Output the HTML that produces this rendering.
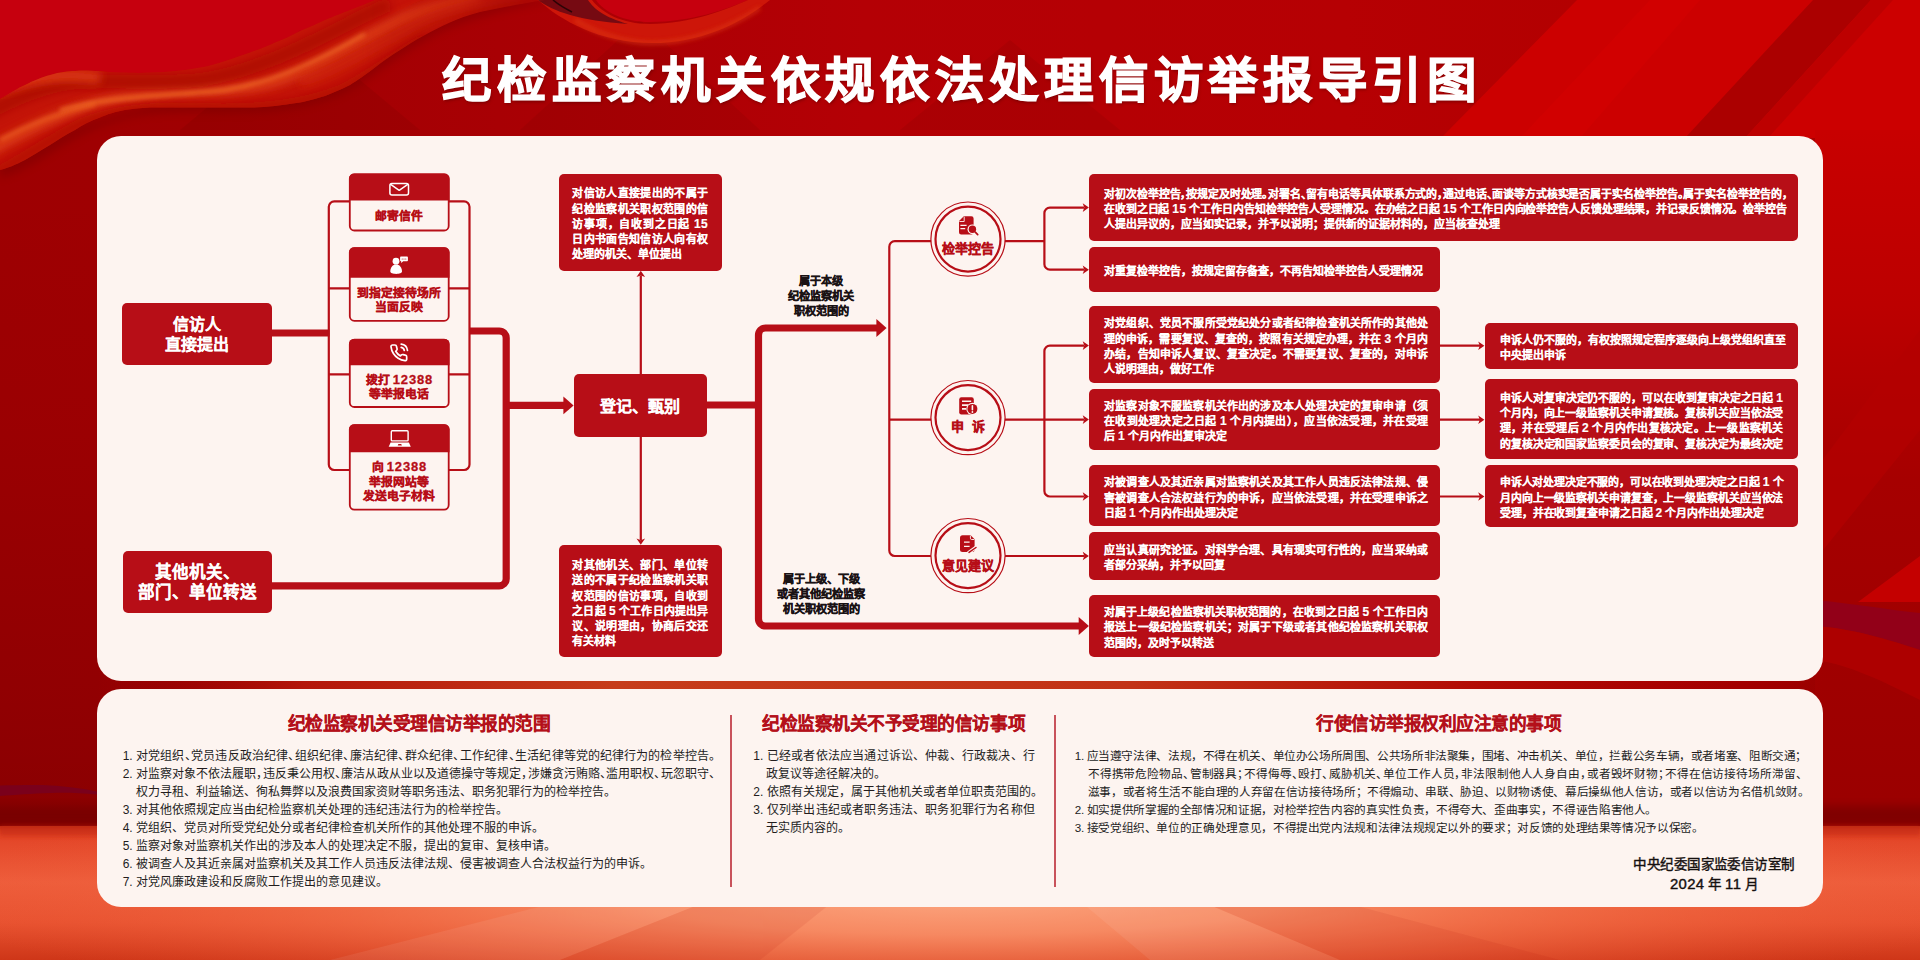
<!DOCTYPE html>
<html lang="zh-CN">
<head>
<meta charset="utf-8">
<title>纪检监察机关依规依法处理信访举报导引图</title>
<style>
html,body{margin:0;padding:0}
body{width:1920px;height:960px;overflow:hidden;position:relative;background:#a40003;font-family:"Liberation Sans",sans-serif;color:#fff}
#bg,#ln,#ic{position:absolute;left:0;top:0;width:1920px;height:960px;display:block}
.title{position:absolute;left:2px;top:42.6px;width:1920px;margin:0;text-align:center;font-size:47.5px;line-height:76px;font-weight:900;letter-spacing:5.6px;color:#fff;-webkit-text-stroke:1.3px #fff;text-shadow:1px 2px 3px rgba(90,0,0,.55);white-space:nowrap;transform:scaleX(1.04);transform-origin:959px 50%}
.w{white-space:nowrap;text-align:justify;text-align-last:justify}
.wc{margin-left:auto;margin-right:auto}
.panel{position:absolute;left:97px;width:1726px;background:#fdf4f0;border-radius:24px}
.p1{top:136px;height:545px}
.p2{top:689px;height:218px}
.b,.ctx,.lab,.cl,.h2{-webkit-text-stroke:.3px currentColor}
.n{font-size:1.1em;letter-spacing:.4px}
.ctx .n{letter-spacing:.8px}
.b{position:absolute;background:#b70e17;border-radius:5px;color:#fff;font-weight:700;box-sizing:border-box}
.bx{display:flex;align-items:center}
.t{font-size:10.9px;-webkit-text-stroke:.16px currentColor;line-height:15.2px;white-space:nowrap}
.t div{height:15.2px}
.t i{font-style:normal;margin-right:-.5em}
.j{text-align:justify;text-align-last:justify}
.big{-webkit-text-stroke:.12px currentColor;padding-top:1px;font-size:16px;line-height:19.6px;text-align:center;display:flex;flex-direction:column;align-items:center;justify-content:center}
.ctx{position:absolute;left:349px;width:100.5px;color:#b70e17;font-weight:700;font-size:11.8px;line-height:14.3px;text-align:center;white-space:nowrap}
.lab{margin-top:.8px;position:absolute;color:#1a1214;font-weight:700;font-size:11.2px;line-height:15px;text-align:center;white-space:nowrap}
.cl{position:absolute;color:#b70e17;font-weight:700;font-size:13px;line-height:16px;text-align:center;white-space:nowrap;width:76px}
.h2{position:absolute;top:712px;color:#b4101a;font-weight:700;font-size:17.7px;letter-spacing:-.47px;line-height:24px;-webkit-text-stroke:.2px currentColor;white-space:nowrap;text-align:center}
.ls{position:absolute;color:#231d1d;font-size:12px;line-height:18.07px;white-space:nowrap}
.ls div{height:18.07px}
.ls .in{margin-left:13px}
.ls i{font-style:normal;margin-right:-.45em}
.dv{position:absolute;top:715px;width:1.6px;height:172px;background:#c8525b}
.ft{position:absolute;left:1614px;width:200px;color:#15100f;font-weight:400;-webkit-text-stroke:.4px currentColor;font-size:13.5px;letter-spacing:.45px;line-height:18.9px;text-align:center;white-space:nowrap}
</style>
</head>
<body>
<svg id="bg" viewBox="0 0 1920 960" preserveAspectRatio="none">
<defs>
<linearGradient id="gBase" x1="0" y1="0" x2="1" y2="0">
<stop offset="0" stop-color="#9e0002"/><stop offset=".1" stop-color="#a00002"/><stop offset=".26" stop-color="#a80004"/><stop offset=".45" stop-color="#b40005"/><stop offset=".7" stop-color="#b60003"/><stop offset=".86" stop-color="#b20000"/><stop offset="1" stop-color="#a40000"/>
</linearGradient>
<linearGradient id="gDarkV" x1="0" y1="0" x2="0" y2="1">
<stop offset="0" stop-color="#5a0000" stop-opacity="0"/><stop offset=".35" stop-color="#5a0000" stop-opacity=".05"/><stop offset=".8" stop-color="#5a0000" stop-opacity=".2"/><stop offset="1" stop-color="#5a0000" stop-opacity=".3"/>
</linearGradient>
<linearGradient id="gFloor" x1="0" y1="0" x2="0" y2="1">
<stop offset="0" stop-color="#dc3a1c"/><stop offset=".12" stop-color="#e4482a"/><stop offset=".42" stop-color="#ee5e3c"/><stop offset=".72" stop-color="#e85230"/><stop offset="1" stop-color="#ce3618"/>
</linearGradient>
<radialGradient id="gGlow" cx="960" cy="0" r="1050" gradientUnits="userSpaceOnUse" gradientTransform="translate(0 896) scale(1 .115)">
<stop offset="0" stop-color="#fca680" stop-opacity="1"/><stop offset=".32" stop-color="#f88e66" stop-opacity=".92"/><stop offset=".62" stop-color="#f27048" stop-opacity=".6"/><stop offset="1" stop-color="#ea5230" stop-opacity="0"/>
</radialGradient>
<linearGradient id="gSide" x1="0" y1="0" x2="0" y2="1">
<stop offset="0" stop-color="#c80000"/><stop offset=".25" stop-color="#bc0000"/><stop offset=".5" stop-color="#a60000"/><stop offset="1" stop-color="#9a0000"/>
</linearGradient>
<filter id="bl2" x="-10%" y="-40%" width="120%" height="180%"><feGaussianBlur stdDeviation="2"/></filter>
<filter id="bl4" x="-10%" y="-40%" width="120%" height="180%"><feGaussianBlur stdDeviation="4"/></filter>
<filter id="bl8" x="-10%" y="-60%" width="120%" height="220%"><feGaussianBlur stdDeviation="8"/></filter>
<linearGradient id="gRibFade" x1="360" y1="0" x2="545" y2="0" gradientUnits="userSpaceOnUse"><stop offset="0" stop-color="#fff"/><stop offset=".55" stop-color="#fff" stop-opacity=".75"/><stop offset="1" stop-color="#fff" stop-opacity=".25"/></linearGradient>
<mask id="mRib" maskUnits="userSpaceOnUse" x="-10" y="-10" width="600" height="200"><rect x="-10" y="-10" width="600" height="200" fill="url(#gRibFade)"/></mask>
<clipPath id="cRib"><path d="M0 99C10 93 18 88 25 85C35 80 42 77 50 75C60 72 68 71 75 71C85 70 92 71 100 71C110 72 118 72.5 125 72.5C135 73 142 73 150 72.5C160 72 168 72 175 71C185 70 192 69 200 67.5C210 66 218 63 225 61C235 58 242 55 250 52.5C260 49 268 46 275 42.5C285 39 292 35 300 31C310 27 318 23 325 20C335 16 342 13 350 10C360 6 368 3 375 0H545C520 4 500 8 480 12C468 15 458 19 450 22.5C440 27 432 31 425 35C415 40 408 45 400 50C390 56 382 62 375 67.5C365 75 358 80 350 85C340 90 332 93 325 96C315 99 308 101 300 102.5C290 104 282 105 275 106C265 107 258 107.5 250 107.5H150C140 108 132 109 125 110C115 112 108 114 100 117.5C90 121 82 125 75 130C65 135 58 140 50 145C40 151 32 156 25 160C15 165 8 168 0 170Z"/></clipPath>
</defs>
<rect width="1920" height="960" fill="url(#gBase)"/>
<rect y="200" width="1920" height="626" fill="url(#gDarkV)"/>
<!-- top-left bright field above ribbon -->
<path d="M0 0H420L300 60L100 100L0 130Z" fill="#c6000e"/>
<!-- title zone faint diamonds -->
<g opacity=".05" fill="#000">
<path d="M180 130L300 30L420 130Z"/><path d="M520 130L640 20L760 130Z"/><path d="M900 130L1010 40L1120 130Z"/>
</g>
<!-- top-right diagonal bands -->
<path d="M1441 138L1577 0H1920V138Z" fill="#cc0000"/>
<path d="M1520 138L1650 0H1700L1580 138Z" fill="#d60000" opacity=".55"/>
<path d="M1685 138L1813 0H1871L1745 138Z" fill="#ab0000"/>
<path d="M1745 138L1871 0H1893L1768 138Z" fill="#bd0000"/>
<!-- right margin -->
<rect x="1815" y="130" width="105" height="700" fill="url(#gSide)"/>
<path d="M1815 470L1920 330V430L1815 560Z" fill="#b40000" opacity=".7"/>
<path d="M1920 556L1858 602H1920Z" fill="#c40000"/>
<path d="M1815 600C1850 603 1890 610 1920 613V650C1890 640 1850 628 1815 626Z" fill="#920018"/>
<path d="M1815 626C1850 628 1890 640 1920 650V700C1880 680 1850 665 1815 660Z" fill="#b00000" opacity=".8"/>
<!-- left margin subtle -->
<path d="M0 785.4C15 785 30 784.8 42 785C62 785.6 80 788 97 791.5V794.5C80 793 65 792.6 52 793C32 793.6 15 795 0 796Z" fill="#78001e" opacity=".9"/>
<!-- floor -->
<rect x="0" y="826" width="1920" height="134" fill="url(#gFloor)"/>
<rect x="0" y="826" width="1920" height="134" fill="url(#gGlow)"/>
<g opacity=".07" fill="#fff">
<path d="M960 800L330 960H560Z"/><path d="M960 800L1150 960H1340Z"/>
</g>
<g opacity=".08" fill="#a00">
<path d="M960 800L560 960H760Z"/><path d="M960 800L1340 960H1560Z"/>
</g>
<rect x="-20" y="806" width="1960" height="20" fill="#6e0000" opacity=".6" filter="url(#bl4)"/>
<rect x="0" y="826" width="1920" height="10" fill="#c42a12" opacity=".55" filter="url(#bl2)"/>
<linearGradient id="gGap" x1="0" y1="0" x2="1" y2="0"><stop offset="0" stop-color="#a00000" stop-opacity="0"/><stop offset=".03" stop-color="#a40401" stop-opacity=".3"/><stop offset=".12" stop-color="#b4160a"/><stop offset=".3" stop-color="#c63c1a"/><stop offset=".6" stop-color="#c23216"/><stop offset=".8" stop-color="#b20c05"/><stop offset=".95" stop-color="#aa0000" stop-opacity=".5"/><stop offset="1" stop-color="#aa0000" stop-opacity="0"/></linearGradient>
<rect x="97" y="670" width="1726" height="30" fill="url(#gGap)"/>
<!-- second ribbon loop (top centre) -->
<path d="M596 0C604 12 624 22 650 22C690 22 728 9 748 0Z" fill="#c6000e"/>
<path d="M538 0C560 20 600 43 652 43C705 43 745 20 770 0H748C728 9 690 24 650 24C622 24 602 13 592 0Z" fill="#cd1609"/>
<path d="M575 20C600 36 630 43 652 43C690 43 730 28 760 8" fill="none" stroke="#e03a12" stroke-width="4" opacity=".6" filter="url(#bl2)"/>
<path d="M538 0C552 11 580 21 628 24C604 17 594 9 588 0Z" fill="#760a12"/>
<path d="M553 0C560 6 566 9 572 12" fill="none" stroke="#1a0204" stroke-width="1.6" opacity=".8"/>
<!-- main ribbon -->
<path d="M0 178C20 172 40 160 60 147C85 132 105 122 135 116C170 110 220 114 262 112C300 110 335 100 360 84C385 66 410 48 440 32C470 18 510 8 560 0H500L0 150Z" fill="#6a0000" opacity=".35" filter="url(#bl4)"/>
<g mask="url(#mRib)"><g clip-path="url(#cRib)">
<rect width="560" height="180" fill="#c41408"/>
<path d="M-10 150C30 128 70 108 120 98C170 90 220 94 265 84C310 72 350 45 395 22C420 10 450 2 480 -4" fill="none" stroke="#e0441a" stroke-width="11" opacity=".85" filter="url(#bl4)"/>
<path d="M-10 112C20 96 50 84 80 82C120 80 160 84 200 80C240 74 280 58 320 38C345 26 365 14 390 4" fill="none" stroke="#aa0a05" stroke-width="14" opacity=".8" filter="url(#bl4)"/>
<path d="M-10 92C10 84 30 78 55 76C70 75 85 76 100 78" fill="none" stroke="#dc3a14" stroke-width="12" opacity=".9" filter="url(#bl4)"/>
<path d="M-10 176C20 160 50 140 80 124C110 110 150 106 200 108C250 110 300 106 340 90C370 76 395 55 425 38" fill="none" stroke="#b00c06" stroke-width="10" opacity=".8" filter="url(#bl4)"/>
<path d="M60 110C110 96 170 96 225 90C275 82 320 60 365 34" fill="none" stroke="#f2702a" stroke-width="3.5" opacity=".8" filter="url(#bl2)"/>
<path d="M0 140C30 124 60 112 95 104" fill="none" stroke="#ee6424" stroke-width="4" opacity=".7" filter="url(#bl2)"/>
<path d="M300 82C340 70 380 42 430 18C460 6 490 0 520 -4" fill="none" stroke="#d02a10" stroke-width="10" opacity=".7" filter="url(#bl4)"/>
</g></g>
</svg>
<div class="title"><div class="w wc" style="width:999.5px">纪检监察机关依规依法处理信访举报导引图</div></div>
<div class="panel p1"></div>
<div class="panel p2"></div>
<svg id="ln" viewBox="0 0 1920 960">
<g fill="none" stroke="#b70e17" stroke-width="7.2" stroke-linejoin="round">
<path d="M270 333H329.5"/>
<path d="M469 331H499.2a7 7 0 0 1 7 7V578.8a7 7 0 0 1-7 7H270"/>
<path d="M506.2 405.4H565"/>
<path d="M706 405H758.5"/>
<path d="M878 328H765.5a7 7 0 0 0-7 7V619a7 7 0 0 0 7 7H1080"/>
</g>
<g fill="#b70e17" stroke="none">
<polygon points="573.6,405.4 563.4,396.5 563.4,414.3"/>
<polygon points="886.6,328.0 876.4,319.1 876.4,336.9"/>
<polygon points="1088.9,626.0 1078.7,617.1 1078.7,634.9"/>
</g>
<g fill="none" stroke="#b70e17" stroke-width="2.2">
<rect x="328.8" y="201.3" width="140.7" height="268.7" rx="5.5"/>
<path d="M328.8 288.4H350M449 288.4H469.5M328.8 374.4H350M449 374.4H469.5"/>
<path d="M640.8 375V275.5M640.8 436V540"/>
<path d="M931 241.2H894.8a5.5 5.5 0 0 0-5.5 5.5V550.5a5.5 5.5 0 0 0 5.5 5.5H931M889.3 419.6H931"/>
<path d="M1005 241.2H1044.4M1084 207.6H1049.9a5.5 5.5 0 0 0-5.5 5.5V264.2a5.5 5.5 0 0 0 5.5 5.5H1084"/>
<path d="M1005 419.6H1084M1084 345.6H1049.9a5.5 5.5 0 0 0-5.5 5.5V491a5.5 5.5 0 0 0 5.5 5.5H1084"/>
<path d="M1005 556H1084"/>
<path d="M1439 345.7H1480M1439 419.7H1480M1439 496.5H1480"/>
</g>
<g fill="#b70e17" stroke="none">
<polygon points="640.8,270.8 636.5,277.0 640.8,275.4 645.1,277.0"/>
<polygon points="640.8,544.8 636.5,538.6 640.8,540.2 645.1,538.6"/>
<polygon points="1088.9,207.6 1082.7,203.3 1084.3,207.6 1082.7,211.9"/>
<polygon points="1088.9,269.7 1082.7,265.4 1084.3,269.7 1082.7,274.0"/>
<polygon points="1088.9,345.6 1082.7,341.3 1084.3,345.6 1082.7,349.9"/>
<polygon points="1088.9,419.6 1082.7,415.3 1084.3,419.6 1082.7,423.9"/>
<polygon points="1088.9,496.5 1082.7,492.2 1084.3,496.5 1082.7,500.8"/>
<polygon points="1088.9,556.0 1082.7,551.7 1084.3,556.0 1082.7,560.3"/>
<polygon points="1484.4,345.7 1478.2,341.4 1479.8,345.7 1478.2,350.0"/>
<polygon points="1484.4,419.7 1478.2,415.4 1479.8,419.7 1478.2,424.0"/>
<polygon points="1484.4,496.5 1478.2,492.2 1479.8,496.5 1478.2,500.8"/>
</g>
<rect x="349.8" y="174.3" width="98.9" height="56.2" rx="4.6" fill="#fdf4f0" stroke="#b70e17" stroke-width="1.8"/>
<path d="M349 200.5V178.5a5 5 0 0 1 5-5H444.5a5 5 0 0 1 5 5V200.5Z" fill="#b70e17"/>
<rect x="349.8" y="248.1" width="98.9" height="72.7" rx="4.6" fill="#fdf4f0" stroke="#b70e17" stroke-width="1.8"/>
<path d="M349 277.7V252.3a5 5 0 0 1 5-5H444.5a5 5 0 0 1 5 5V277.7Z" fill="#b70e17"/>
<rect x="349.8" y="339.7" width="98.9" height="67.3" rx="4.6" fill="#fdf4f0" stroke="#b70e17" stroke-width="1.8"/>
<path d="M349 365.2V343.9a5 5 0 0 1 5-5H444.5a5 5 0 0 1 5 5V365.2Z" fill="#b70e17"/>
<rect x="349.8" y="425.1" width="98.9" height="84.6" rx="4.6" fill="#fdf4f0" stroke="#b70e17" stroke-width="1.8"/>
<path d="M349 452.2V429.3a5 5 0 0 1 5-5H444.5a5 5 0 0 1 5 5V452.2Z" fill="#b70e17"/>
<circle cx="968" cy="239.1" r="37.1" fill="#fdf4f0" stroke="#b70e17" stroke-width="1.2"/>
<circle cx="968" cy="239.1" r="32.5" fill="none" stroke="#b70e17" stroke-width="2.2"/>
<circle cx="968" cy="417.6" r="37.1" fill="#fdf4f0" stroke="#b70e17" stroke-width="1.2"/>
<circle cx="968" cy="417.6" r="32.5" fill="none" stroke="#b70e17" stroke-width="2.2"/>
<circle cx="968" cy="555.6" r="37.1" fill="#fdf4f0" stroke="#b70e17" stroke-width="1.2"/>
<circle cx="968" cy="555.6" r="32.5" fill="none" stroke="#b70e17" stroke-width="2.2"/>
</svg>
<div class="b big" style="left:122px;top:303px;width:149.5px;height:62px"><div class="w wc" style="width:48.0px">信访人</div><div class="w wc" style="width:64.0px">直接提出</div></div>
<div class="b big" style="left:122.5px;top:551px;width:149px;height:62px;font-size:16.5px;padding-top:2px"><div class="w wc" style="width:85.0px">其他机关、</div><div class="w wc" style="width:119.0px">部门、单位转送</div></div>
<div class="ctx" style="top:209.2px"><div class="w wc" style="width:48.0px">邮寄信件</div></div>
<div class="ctx" style="top:285.8px"><div class="w wc" style="width:84.0px">到指定接待场所</div><div class="w wc" style="width:48.0px">当面反映</div></div>
<div class="ctx" style="top:372.7px"><div class="w wc" style="width:67.4px">拨打 <span class="n">12388</span></div><div class="w wc" style="width:60.0px">等举报电话</div></div>
<div class="ctx" style="top:460.4px"><div class="w wc" style="width:55.4px">向 <span class="n">12388</span></div><div class="w wc" style="width:60.0px">举报网站等</div><div class="w wc" style="width:72.0px">发送电子材料</div></div>
<div class="b bx" style="left:559.0px;top:173.5px;width:163.0px;height:97.0px;"><div class="t" style="margin-left:13.3px;width:135.8px;font-size:10.90px;position:relative;top:2.3px;"><div class="j">对信访人直接提出的不属于</div><div class="j">纪检监察机关职权范围的信</div><div class="j">访事项，自收到之日起 <span class="n">15</span></div><div class="j">日内书面告知信访人向有权</div><div class="w" style="width:110.0px">处理的机关、单位提出</div></div></div>
<div class="b big" style="left:573.7px;top:374.3px;width:133.6px;height:62.3px;font-size:16px;padding-top:3.2px"><div class="w wc" style="width:80.0px">登记、甄别</div></div>
<div class="b bx" style="left:559.0px;top:545.0px;width:163.0px;height:112.3px;"><div class="t" style="margin-left:13.3px;width:135.8px;font-size:10.90px;position:relative;top:2.6px;"><div class="j">对其他机关、部门、单位转</div><div class="j">送的不属于纪检监察机关职</div><div class="j">权范围的信访事项，自收到</div><div class="j">之日起 <span class="n">5</span> 个工作日内提出异</div><div class="j">议、说明理由，协商后交还</div><div class="w" style="width:44.0px">有关材料</div></div></div>
<div class="lab" style="left:761px;width:120px;top:273px"><div class="w wc" style="width:44.0px">属于本级</div><div class="w wc" style="width:66.0px">纪检监察机关</div><div class="w wc" style="width:55.0px">职权范围的</div></div>
<div class="lab" style="left:761px;width:120px;top:571px"><div class="w wc" style="width:77.0px">属于上级、下级</div><div class="w wc" style="width:88.0px">或者其他纪检监察</div><div class="w wc" style="width:77.0px">机关职权范围的</div></div>
<div class="cl" style="left:930px;top:240.5px"><div class="w wc" style="width:52.0px">检举控告</div></div>
<div class="cl" style="left:930px;top:419.4px"><div class="w wc" style="width:33.3px">申&nbsp;&nbsp;诉</div></div>
<div class="cl" style="left:930px;top:557.5px"><div class="w wc" style="width:52.0px">意见建议</div></div>
<div class="b bx" style="left:1089.3px;top:173.5px;width:709.0px;height:67.1px;"><div class="t" style="margin-left:14.7px;width:683.0px;position:relative;top:2.3px;"><div class="j" style="letter-spacing:-0.12px">对初次检举控告<i>，</i>按规定及时处理<i>。</i>对署名<i>、</i>留有电话等具体联系方式的<i>，</i>通过电话<i>、</i>面谈等方式核实是否属于实名检举控告<i>。</i>属于实名检举控告的<i>，</i></div><div class="j" style="letter-spacing:-0.11px">在收到之日起 <span class="n">15</span> 个工作日内告知检举控告人受理情况。在办结之日起 <span class="n">15</span> 个工作日内向检举控告人反馈处理结果，并记录反馈情况。检举控告</div><div class="w" style="width:396.1px">人提出异议的，应当如实记录，并予以说明；提供新的证据材料的，应当核查处理</div></div></div>
<div class="b bx" style="left:1089.3px;top:247.3px;width:351.0px;height:44.3px;"><div class="t" style="margin-left:14.7px;width:324.0px;position:relative;top:2.3px;"><div class="w" style="width:319.1px">对重复检举控告，按规定留存备查，不再告知检举控告人受理情况</div></div></div>
<div class="b bx" style="left:1089.3px;top:306.2px;width:351.0px;height:76.5px;"><div class="t" style="margin-left:14.7px;width:324.0px;position:relative;top:2.3px;"><div class="j">对党组织、党员不服所受党纪处分或者纪律检查机关所作的其他处</div><div class="j">理的申诉，需要复议、复查的，按照有关规定办理，并在 <span class="n">3</span> 个月内</div><div class="j">办结，告知申诉人复议、复查决定。不需要复议、复查的，对申诉</div><div class="w" style="width:110.0px">人说明理由，做好工作</div></div></div>
<div class="b bx" style="left:1089.3px;top:388.6px;width:351.0px;height:61.4px;"><div class="t" style="margin-left:14.7px;width:324.0px;position:relative;top:2.3px;"><div class="j">对监察对象不服监察机关作出的涉及本人处理决定的复审申请（须</div><div class="j">在收到处理决定之日起 <span class="n">1</span> 个月内提出），应当依法受理，并在受理</div><div class="w" style="width:123.2px">后 <span class="n">1</span> 个月内作出复审决定</div></div></div>
<div class="b bx" style="left:1089.3px;top:465.2px;width:351.0px;height:61.3px;"><div class="t" style="margin-left:14.7px;width:324.0px;position:relative;top:2.3px;"><div class="j">对被调查人及其近亲属对监察机关及其工作人员违反法律法规、侵</div><div class="j">害被调查人合法权益行为的申诉，应当依法受理，并在受理申诉之</div><div class="w" style="width:134.2px">日起 <span class="n">1</span> 个月内作出处理决定</div></div></div>
<div class="b bx" style="left:1089.3px;top:532.2px;width:351.0px;height:47.8px;"><div class="t" style="margin-left:14.7px;width:324.0px;position:relative;top:2.3px;"><div class="j">应当认真研究论证。对科学合理、具有现实可行性的，应当采纳或</div><div class="w" style="width:121.0px">者部分采纳，并予以回复</div></div></div>
<div class="b bx" style="left:1089.3px;top:594.6px;width:351.0px;height:62.1px;"><div class="t" style="margin-left:14.7px;width:324.0px;position:relative;top:2.3px;"><div class="j">对属于上级纪检监察机关职权范围的，在收到之日起 <span class="n">5</span> 个工作日内</div><div class="j">报送上一级纪检监察机关；对属于下级或者其他纪检监察机关职权</div><div class="w" style="width:110.0px">范围的，及时予以转送</div></div></div>
<div class="b bx" style="left:1484.7px;top:323.2px;width:313.6px;height:45.5px;"><div class="t" style="margin-left:15.3px;width:285.8px;font-size:10.90px;position:relative;top:2.3px;"><div class="j">申诉人仍不服的，有权按照规定程序逐级向上级党组织直至</div><div class="w" style="width:66.0px">中央提出申诉</div></div></div>
<div class="b bx" style="left:1484.7px;top:379.4px;width:313.6px;height:79.6px;"><div class="t" style="margin-left:15.3px;width:283.4px;font-size:10.90px;position:relative;top:2.3px;letter-spacing:-.11px;"><div class="j">申诉人对复审决定仍不服的，可以在收到复审决定之日起 <span class="n">1</span></div><div class="j">个月内，向上一级监察机关申请复核。复核机关应当依法受</div><div class="j">理，并在受理后 <span class="n">2</span> 个月内作出复核决定。上一级监察机关</div><div class="j">的复核决定和国家监察委员会的复审、复核决定为最终决定</div></div></div>
<div class="b bx" style="left:1484.7px;top:465.3px;width:313.6px;height:61.3px;"><div class="t" style="margin-left:15.3px;width:283.4px;font-size:10.90px;position:relative;top:2.3px;letter-spacing:-.11px;"><div class="j" style="letter-spacing:-0.2px">申诉人对处理决定不服的，可以在收到处理决定之日起 <span class="n">1</span> 个</div><div class="j">月内向上一级监察机关申请复查，上一级监察机关应当依法</div><div class="w" style="width:263.5px">受理，并在收到复查申请之日起 <span class="n">2</span> 个月内作出处理决定</div></div></div>
<svg id="ic" viewBox="0 0 1920 960">
<g id="ic-mail" fill="none" stroke="#fff" stroke-width="1.5" stroke-linejoin="round" stroke-linecap="round">
<rect x="389.9" y="183.5" width="18.6" height="11.4" rx="2"/>
<path d="M391 184.6L399.2 190.3L407.4 184.6"/>
</g>
<g id="ic-person" fill="#fff" stroke="none">
<circle cx="396" cy="261.2" r="3.4"/>
<path d="M390.3 271.6C390.3 267.2 392.8 264.5 396.1 264.5C399.4 264.5 402 267.2 402 271.6C402 273.3 399.2 274 396.1 274C393.1 274 390.3 273.3 390.3 271.6Z"/>
<path d="M400.9 256.6H407.1a.8 .8 0 0 1 .8 .8V260.5a.8 .8 0 0 1-.8 .8H403.2L401.2 263V261.3H400.9a.8 .8 0 0 1-.8-.8V257.4a.8 .8 0 0 1 .8-.8Z"/>
<g fill="#b70e17"><circle cx="402.2" cy="259" r=".55"/><circle cx="404" cy="259" r=".55"/><circle cx="405.8" cy="259" r=".55"/></g>
</g>
<g id="ic-phone" transform="translate(389.3 343.4) scale(.79)" fill="none" stroke="#fff" stroke-width="2.15" stroke-linecap="round" stroke-linejoin="round">
<path d="M15.05 5A5 5 0 0 1 19 8.95M15.05 1A9 9 0 0 1 23 8.94m-1 7.98v3a2 2 0 0 1-2.18 2 19.79 19.79 0 0 1-8.63-3.07 19.5 19.5 0 0 1-6-6 19.79 19.79 0 0 1-3.07-8.67A2 2 0 0 1 4.11 2h3a2 2 0 0 1 2 1.72 12.84 12.84 0 0 0 .7 2.81 2 2 0 0 1-.45 2.11L8.09 9.91a16 16 0 0 0 6 6l1.27-1.27a2 2 0 0 1 2.11-.45 12.84 12.84 0 0 0 2.81.7A2 2 0 0 1 22 16.92z"/>
</g>
<g id="ic-laptop">
<rect x="391.3" y="430.7" width="16.8" height="10.2" rx="1" fill="none" stroke="#fff" stroke-width="1.4"/>
<path d="M390.6 442.6H408.9L410.8 446.8H388.7Z" fill="#fff"/>
<path d="M398.4 444H401.2L401.9 445.6H397.7Z" fill="#b70e17"/>
</g>
<g id="ic-doc1">
<path d="M963.8 216.3H971.4a2.2 2.2 0 0 1 2.2 2.2V232.3a2.2 2.2 0 0 1-2.2 2.2H961.2a2.2 2.2 0 0 1-2.2-2.2V221.1Z" fill="#b70e17"/>
<path d="M959.4 221.5H964.2V216.7" fill="none" stroke="#fdf4f0" stroke-width=".9"/>
<path d="M960.4 225.4H966.6M960.4 228.7H965.2" fill="none" stroke="#fdf4f0" stroke-width="1.3"/>
<circle cx="972.4" cy="229.3" r="4.9" fill="#fdf4f0"/>
<circle cx="972.4" cy="229.3" r="3.7" fill="#b70e17"/>
<path d="M975.3 232.2L977.7 234.6" stroke="#b70e17" stroke-width="1.7" stroke-linecap="round"/>
</g>
<g id="ic-doc2">
<rect x="959.2" y="397.3" width="14.6" height="17.1" rx="2.2" fill="#b70e17"/>
<path d="M962 401.3H971.2M962 405.1H968M962 408.9H966" fill="none" stroke="#fdf4f0" stroke-width="1.6"/>
<circle cx="972.4" cy="408.9" r="6.1" fill="#fdf4f0"/>
<circle cx="972.4" cy="408.9" r="5" fill="#b70e17"/>
<path d="M972.4 405.8V409.8" stroke="#fdf4f0" stroke-width="1.6" stroke-linecap="round"/>
<circle cx="972.4" cy="412" r=".9" fill="#fdf4f0"/>
</g>
<g id="ic-doc3">
<path d="M962.5 535.3H970.6L974.6 539.3V549.5a2.5 2.5 0 0 1-2.5 2.5H962.5a2.5 2.5 0 0 1-2.5-2.5V537.8a2.5 2.5 0 0 1 2.5-2.5Z" fill="#b70e17"/>
<path d="M970.4 535.6V538.2a1.3 1.3 0 0 0 1.3 1.3H974.4" fill="none" stroke="#fdf4f0" stroke-width=".9"/>
<path d="M964 542.1H969.6M964 546.3H969.6" fill="none" stroke="#fdf4f0" stroke-width="1.3"/>
<path d="M968.6 552.6L976.2 547.2" stroke="#fdf4f0" stroke-width="3.4" stroke-linecap="round"/>
<path d="M969 552.4L976 547.5" stroke="#b70e17" stroke-width="1.5" stroke-linecap="round"/>
</g>

</svg>

<div class="h2" style="left:269px;width:300px"><div class="w wc" style="width:263.0px">纪检监察机关受理信访举报的范围</div></div>
<div class="h2" style="left:743.6px;width:300px"><div class="w wc" style="width:263.0px">纪检监察机关不予受理的信访事项</div></div>
<div class="h2" style="left:1288.8px;width:300px"><div class="w wc" style="width:245.5px">行使信访举报权利应注意的事项</div></div>
<div class="dv" style="left:730px"></div>
<div class="dv" style="left:1054.4px"></div>
<div class="ls" style="left:122.7px;top:746.6px">
<div class="j" style="width:598px">1. 对党组织<i>、</i>党员违反政治纪律<i>、</i>组织纪律<i>、</i>廉洁纪律<i>、</i>群众纪律<i>、</i>工作纪律<i>、</i>生活纪律等党的纪律行为的检举控告。</div>
<div class="j" style="width:597px">2. 对监察对象不依法履职<i>，</i>违反秉公用权<i>、</i>廉洁从政从业以及道德操守等规定<i>，</i>涉嫌贪污贿赂<i>、</i>滥用职权<i>、</i>玩忽职守、</div>
<div class="w in" style="width:480.1px">权力寻租、利益输送、徇私舞弊以及浪费国家资财等职务违法、职务犯罪行为的检举控告。</div>
<div class="w" style="width:385.4px">3. 对其他依照规定应当由纪检监察机关处理的违纪违法行为的检举控告。</div>
<div class="w" style="width:421.4px">4. 党组织、党员对所受党纪处分或者纪律检查机关所作的其他处理不服的申诉。</div>
<div class="w" style="width:433.4px">5. 监察对象对监察机关作出的涉及本人的处理决定不服，提出的复审、复核申请。</div>
<div class="w" style="width:529.4px">6. 被调查人及其近亲属对监察机关及其工作人员违反法律法规、侵害被调查人合法权益行为的申诉。</div>
<div class="w" style="width:265.4px">7. 对党风廉政建设和反腐败工作提出的意见建议。</div>
</div>
<div class="ls" style="left:753.3px;top:746.6px">
<div class="j" style="width:281.5px">1. 已经或者依法应当通过诉讼、仲裁、行政裁决、行</div>
<div class="w in" style="width:120.0px">政复议等途径解决的。</div>
<div class="j" style="width:288px">2. 依照有关规定，属于其他机关或者单位职责范围的。</div>
<div class="j" style="width:281.5px">3. 仅列举出违纪或者职务违法、职务犯罪行为名称但</div>
<div class="w in" style="width:84.0px">无实质内容的。</div>
</div>
<div class="ls" style="left:1074.8px;top:746.6px;font-size:11.65px">
<div class="j" style="width:726.5px;letter-spacing:-.38px">1. 应当遵守法律、法规，不得在机关、单位办公场所周围、公共场所非法聚集，围堵、冲击机关、单位，拦截公务车辆，或者堵塞、阻断交通；</div>
<div class="j in" style="width:714.5px;letter-spacing:-.1px">不得携带危险物品<i>、</i>管制器具<i>；</i>不得侮辱<i>、</i>殴打<i>、</i>威胁机关<i>、</i>单位工作人员<i>，</i>非法限制他人人身自由<i>，</i>或者毁坏财物<i>；</i>不得在信访接待场所滞留、</div>
<div class="j in" style="width:718px;letter-spacing:-.36px">滋事，或者将生活不能自理的人弃留在信访接待场所；不得煽动、串联、胁迫、以财物诱使、幕后操纵他人信访，或者以信访为名借机敛财。</div>
<div class="w" style="letter-spacing:-.36px;width:582.3px">2. 如实提供所掌握的全部情况和证据，对检举控告内容的真实性负责，不得夸大、歪曲事实，不得诬告陷害他人。</div>
<div class="w" style="letter-spacing:-.36px;width:628.8px">3. 接受党组织、单位的正确处理意见，不得提出党内法规和法律法规规定以外的要求；对反馈的处理结果等情况予以保密。</div>
</div>
<div class="ft" style="top:855.6px"><div class="w wc" style="width:161.5px">中央纪委国家监委信访室制</div><div class="w wc" style="letter-spacing:0;width:88.2px"><span class="n">2024</span> 年 <span class="n">11</span> 月</div></div>

</body>
</html>
